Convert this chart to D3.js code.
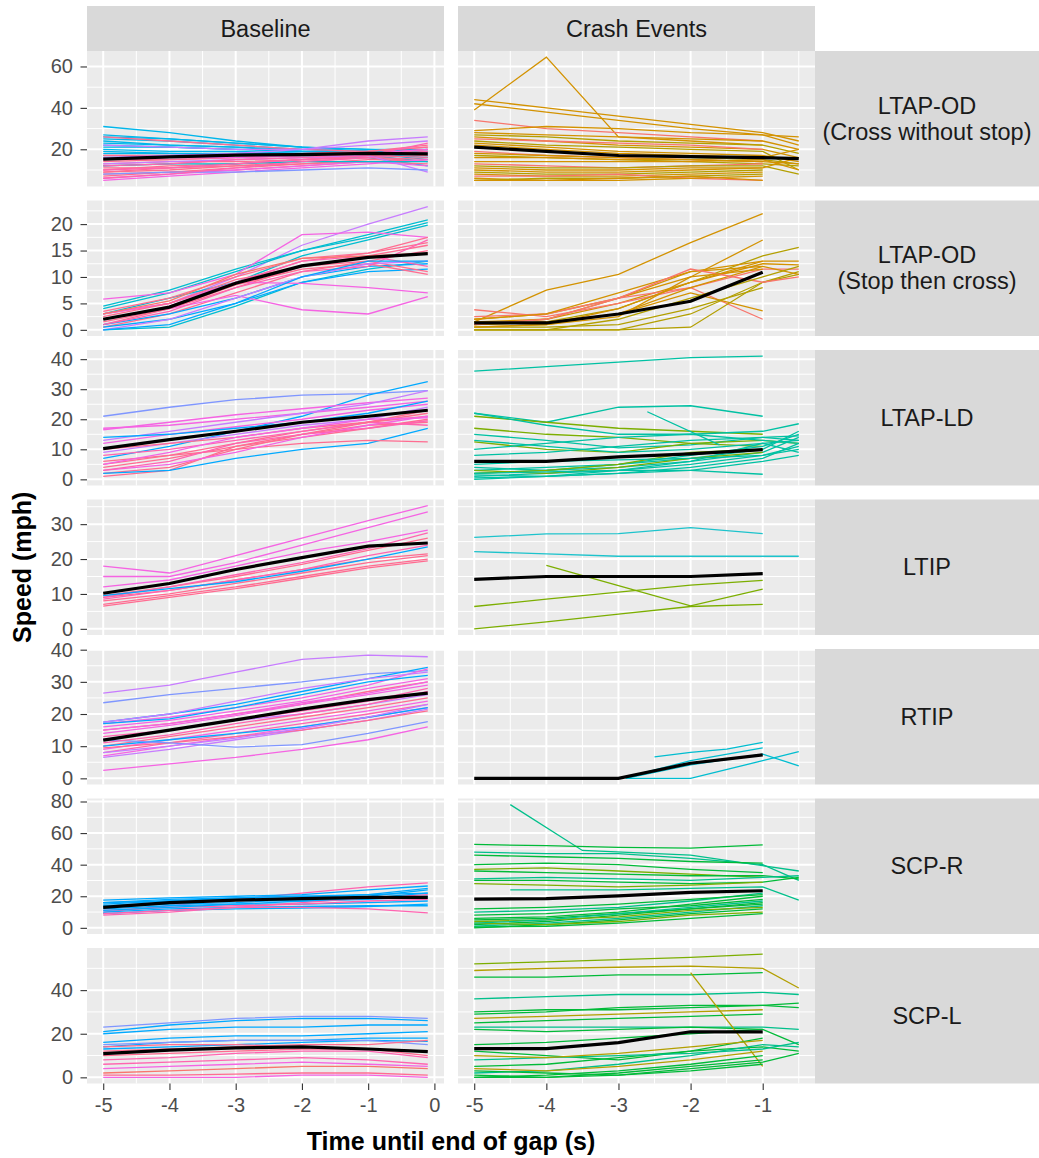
<!DOCTYPE html>
<html>
<head>
<meta charset="utf-8">
<script src="https://cdn.jsdelivr.net/npm/d3@7"></script>
<style>
  body { margin: 0; background: #fff; }
  text { font-family: 'Liberation Sans', Arial, sans-serif; }
  .tick text { fill: #4d4d4d; font-size: 20px; }
  .tick line { stroke: #333; stroke-width: 1.1; }
  .strip-label { fill: #1a1a1a; font-size: 23.5px; }
  .axis-title { fill: #000; font-size: 25px; font-weight: bold; }
</style>
</head>
<body>
<svg width="1039" height="1158"></svg>
<script>
// facet labels and ticks
const columns = ['Baseline', 'Crash Events'];
const rowLabels = [
  ['LTAP-OD', '(Cross without stop)'],
  ['LTAP-OD', '(Stop then cross)'],
  ['LTAP-LD'],
  ['LTIP'],
  ['RTIP'],
  ['SCP-R'],
  ['SCP-L']
];
const yTicks = [
  [20, 40, 60],
  [0, 5, 10, 15, 20],
  [0, 10, 20, 30, 40],
  [0, 10, 20, 30],
  [0, 10, 20, 30, 40],
  [0, 20, 40, 60, 80],
  [0, 20, 40]
];
const xTicks = [[-5, -4, -3, -2, -1, 0], [-5, -4, -3, -2, -1]];

// sample times of each line
const baseTimes = [-5, -4, -3, -2, -1, -0.1];
const crashTimes = [-5, -4, -3, -2, -1, -0.5];

// colour groups (driver id groups)
const palette = {
  cy: '#00B6EB', te: '#00BDD0', ta: '#00C1A3', bl: '#00A9FF', bp: '#7F96FF',
  pu: '#C77CFF', mg: '#F564E3', pk: '#FF64B0', rd: '#FF6C91', sa: '#F8766D',
  or: '#D39200', ol: '#B39F00', gr: '#7CAE00', g2: '#00BA38', tg: '#00C08B',
  cn: '#1DC3CC'
};

// ---- LTAP-OD cross without stop
const ltapCrossBaseline = [
  ['cy', 31, 28, 24, 21, 20, 19], ['cy', 27, 25, 23, 21, 19, 18], ['cy', 25, 24, 22, 20, 19, 18],
  ['cy', 23, 22, 21, 20, 19, 17], ['cy', 21, 21, 20, 19, 18, 17], ['cy', 20, 19, 19, 18, 18, 16],
  ['cy', 19, 18, 18, 19, 17, 14], ['cy', 18, 18, 17, 17, 16, 12], ['cy', 24, 22, 21, 19, 18, 19],
  ['cy', 26, 25, 23, 21, 20, 20], ['cy', 22, 21, 20, 19, 19, 18], ['cy', 17, 17, 18, 18, 18, 15],
  ['rd', 26, 24, 22, 20, 19, 21], ['rd', 17, 17, 17, 18, 19, 22], ['rd', 14, 15, 16, 17, 18, 20],
  ['rd', 12, 13, 15, 16, 17, 19], ['rd', 10, 12, 13, 15, 17, 18], ['rd', 9, 10, 12, 14, 16, 17],
  ['rd', 8, 9, 11, 13, 15, 16], ['rd', 7, 9, 10, 12, 14, 15], ['rd', 13, 14, 14, 15, 16, 14],
  ['rd', 11, 11, 12, 13, 14, 13], ['rd', 15, 15, 16, 17, 19, 21], ['rd', 9, 11, 13, 15, 17, 20],
  ['mg', 5, 7, 9, 11, 13, 15], ['mg', 6, 8, 10, 12, 14, 12],
  ['mg', 15, 16, 16, 17, 18, 20], ['pu', 16, 17, 18, 20, 24, 26], ['pu', 22, 21, 20, 20, 22, 24],
  ['pu', 13, 14, 15, 16, 17, 9], ['bp', 8, 9, 9, 10, 11, 10], ['te', 12, 13, 13, 14, 14, 14],
  ['pk', 10, 11, 13, 15, 17, 23], ['pk', 6, 8, 11, 14, 16, 19], ['pk', 12, 13, 15, 16, 18, 18]
];
const ltapCrossBaselineMean = [15.2, 16.3, 17.2, 17.4, 18, 17.8];
const ltapCrossCrash = [
  ['or', 44, 40, 36, 32, 28, 24], ['or', 42, 38, 34, 30, 27, 26], ['or', 39, 64.5, 26, 24, 22, null],
  ['sa', 34, 30, 28, 26, 24, null], ['or', 29, 31, 30, 28, 27, 22], ['or', 28, 27, 26, 25, 24, 20],
  ['ol', 27, 26, 24, 23, 22, 18], ['or', 26, 24, 22, 21, 20, 16], ['sa', 25, 24, 23, 22, 20, null],
  ['ol', 24, 22, 21, 20, 19, 10], ['or', 23, 21, 19, 18, 17, 14], ['or', 22, 20, 18, 17, 16, 20],
  ['ol', 21, 19, 17, 16, 15, 13], ['sa', 19, 17, 16, 15, 14, null], ['or', 18, 17, 16, 15, 14, 13],
  ['ol', 17, 16, 15, 14, 13, 12], ['or', 16, 16, 15, 15, 14, null], ['or', 14, 14, 14, 14, 15, 10],
  ['sa', 13, 12, 11, 12, 13, null], ['ol', 12, 11, 11, 12, 12, 8], ['or', 11, 10, 10, 11, 11, null],
  ['or', 10, 9, 9, 10, 11, 16], ['ol', 9, 8, 8, 9, 10, null], ['or', 8, 7, 7, 8, 9, null],
  ['sa', 7, 7, 8, 6, 5, null], ['or', 6, 5, 5, 6, 7, null], ['ol', 5, 6, 6, 7, 8, null],
  ['or', 5, 5, 6, 7, 5, null]
];
const ltapCrossCrashMean = [21, 19, 17, 16.5, 16, 15.5];

// ---- LTAP-OD stop then cross
const ltapStopBaseline = [
  ['pu', 3, 5, 10, 16, 20, 23.3], ['te', 4, 7, 11, 15, 18, 20.8], ['te', 4.5, 7.5, 11.5, 15, 17.5, 20.3],
  ['te', 3, 6, 9, 14, 17, 19.8], ['mg', 5.8, 7, 10.5, 18, 18.5, 17.5], ['rd', 3.5, 6, 10, 13.5, 14.5, 17.5],
  ['rd', 3, 5, 9, 13, 14.5, 16.5], ['rd', 1, 4, 8, 12, 14, 16], ['rd', 0.5, 3, 7, 11, 13, 15],
  ['te', 0, 0.5, 4.5, 9, 11.5, 13], ['bl', 1, 3, 6, 10, 12, 12.5], ['bl', 0.5, 2, 5, 9, 11, 11.5],
  ['mg', 2, 4, 6.5, 3.8, 3, 6.3], ['mg', 3, 5, 9, 8.8, 8, 7], ['rd', 2.5, 5, 9.5, 12, 13, 11],
  ['rd', 1.5, 4, 8.5, 11.5, 12.5, 10.5], ['pu', 0, 2, 6, 10, 12.5, 13], ['pk', 2, 4.5, 9, 13, 14, 12],
  ['sa', 3, 5.5, 10.5, 13.5, 14, 14.5], ['pk', 1, 3.5, 8, 11, 12, 17], ['bl', 0, 1, 5, 10, 13, 13]
];
const ltapStopBaselineMean = [2, 4.3, 8.8, 12.1, 13.7, 14.4];
const ltapStopCrash = [
  ['or', 1.5, 7.5, 10.5, 16.5, 22, null], ['or', 2, 3, 6, 10, 17, null], ['ol', 1, 1.5, 4, 9, 14, 15.6],
  ['or', 1.5, 2, 6, 11, 13, null], ['or', 1, 2, 5, 9, 12.5, 12.3], ['sa', 3.8, 2.5, 5, 8, 11.5, 11.5],
  ['sa', 2.5, 3, 6, 8, 2, null], ['or', 0.5, 1, 3, 7, 3.6, null], ['ol', 0, 0, 0, 0.5, 9, 11],
  ['ol', 0, 0, 0, 3, 9, 10.5], ['ol', 0.5, 0.5, 1, 4, 8, null], ['or', 1, 1.5, 3, 8, 12, 10.5],
  ['or', 1.5, 1, 4, 9, 13, 13], ['or', 2, 3, 7, 11, 12, null], ['sa', 1, 2, 6, 11.5, 9, 10],
  ['ol', 0, 0, 2, 6, 10, 12], ['or', 0.5, 1, 2.5, 10, 11.5, null]
];
const ltapStopCrashMean = [1.3, 1.3, 3, 5.4, 10.9, null];

// ---- LTAP-LD
const ltapLdBaseline = [
  ['bp', 21, 24, 26.5, 28, 28.5, 29.5], ['bl', 7, 11, 16, 21, 28, 32.5], ['mg', 16.5, 19, 21.5, 23.5, 25.5, 27],
  ['mg', 17, 18, 20, 22, 24, 26], ['pu', 13, 16, 19, 22, 25, 29.5], ['mg', 12, 15, 17.5, 20, 23, 25],
  ['rd', 1, 3, 11, 14, 17, 20], ['rd', 2, 4, 10, 15, 18, 19], ['bl', 2, 3, 7, 10, 12, 17],
  ['rd', 6, 8, 10, 12, 13, 12.5], ['rd', 4, 7, 11, 15, 19, 22], ['rd', 5, 8, 12, 16, 19, 21],
  ['mg', 3, 5, 9, 14, 18, 21], ['pk', 8, 10, 13, 16, 19, 18], ['pu', 9, 12, 15, 18, 20, 24],
  ['rd', 10, 12, 14, 17, 19, 23], ['mg', 5, 9, 14, 17, 20, 20.5], ['pk', 3, 6, 12, 15, 17, 19.5],
  ['bl', 14, 15, 17, 19, 22, 26]
];
const ltapLdBaselineMean = [10.2, 13.2, 16, 19, 21, 23];
const ltapLdCrash = [
  ['ta', 36, 37.5, 39, 40.5, 41, null], ['ta', 22, 19, 24, 24.5, 21, null], ['gr', 21, 19, 17, 16, 15, null],
  ['ta', 22, 18, 15, 15, 16, 18.5], ['ta', 15, 13, 10.5, 11.5, 14, 14.5], ['gr', 12.5, 10, 9, 12, 13, 12],
  ['gr', 17, 15, 14, 12, 11, null], ['ta', 13, 11, 9, 10, 12, 13],
  { c: 'ta', t: [-2.6, -1.6], v: [22.5, 11.5] },
  ['ta', 1, 2, 3, 5, 8, 10], ['ta', 0.5, 1, 2, 4, 7, 12], ['ta', 2, 3, 4, 6, 9, 14],
  ['ta', 3, 4, 5, 7, 10, 16], ['ta', 1.5, 1, 3, 6, 12, 9], ['ta', 0, 1, 2, 3, 6, 8],
  ['ta', 4, 3, 5, 8, 11, 15], ['gr', 3, 2, 4, 7, 9, null], ['gr', 2, 3, 5, 9, 10, null],
  ['ta', 5, 6, 6.5, 7, 8, 11], ['ta', 2, 2.5, 3, 3, 1.7, null], ['ta', 8, 9, 11, 13, 14, 13],
  ['ta', 10, 12, 14, 15, 13, 12]
];
const ltapLdCrashMean = [6, 6, 7.5, 8.5, 9.9, null];

// ---- LTIP
const ltipBaseline = [
  ['mg', 18, 16, 21, 26, 31, 35.3], ['mg', 15, 15, 19, 24, 29, 33.5], ['mg', 12, 14, 18, 22, 25, 28.3],
  ['rd', 9, 11, 14, 17, 20, 21.5], ['rd', 8, 10, 13, 16, 19, 21], ['rd', 7, 9.5, 12, 15, 18, 20],
  ['rd', 6.5, 9, 11.5, 14.5, 17.5, 19.5], ['pk', 8.5, 11, 14, 17, 21, 24], ['rd', 9.5, 12, 15, 18.5, 22.5, 26],
  ['pk', 9, 12, 15.5, 19, 23, 27.5], ['bl', 9.5, 11.5, 13.5, 16.5, 20, 23.5]
];
const ltipBaselineMean = [10.2, 13, 17, 20.4, 23.7, 24.6];
const ltipCrash = [
  ['cn', 26.2, 27.2, 27.3, 29, 27.3, null], ['cn', 22.1, 21.5, 20.8, 20.8, 20.8, 20.8],
  ['gr', null, 18.2, 12.4, 6.6, 11.4, null], ['gr', 6.4, 8.5, 10.5, 12.5, 13.9, null],
  ['gr', 0, 2, 4.2, 6.4, 7, null]
];
const ltipCrashMean = [14.2, 15, 15, 15, 15.8, null];

// ---- RTIP
const rtipBaseline = [
  ['pu', 26.5, 29, 33, 37, 38.3, 37.8], ['bp', 23.5, 26, 28, 30, 32.5, 33.5], ['bl', 17.5, 20, 23, 27, 31, 34.5],
  ['mg', 17, 19, 22, 25, 29, 34], ['pu', 17.5, 20, 24, 28, 31, 33], ['mg', 16, 18, 21, 24, 28, 31],
  ['rd', 15, 17, 20, 23, 27, 30], ['mg', 14, 16.5, 19.5, 23, 26, 29], ['pk', 13, 15, 18, 21, 24, 28],
  ['pu', 12, 15, 18, 20, 23, 26], ['rd', 10, 13, 16, 19, 22, 25], ['mg', 9, 12, 15, 18, 21, 24],
  ['pk', 8, 11, 14, 17, 20, 23], ['mg', 7, 10, 13, 16, 19, 22], ['pu', 6.5, 9, 12, 15, 18, 21.5],
  ['rd', 9.5, 11, 13, 15, 18, 21], ['bl', 10, 12, 14, 16, 19, 22], ['bp', 12, 11, 9.7, 10.5, 14, 17.6],
  ['mg', 2.5, 4.5, 6.5, 9, 12, 16], ['pk', 11, 13.5, 17, 20, 23, 27], ['mg', 15, 17, 20, 23.5, 26.5, 30],
  ['bl', 17, 18.5, 22, 26, 30, 32], ['pu', 8, 10, 12.5, 15.5, 19, 23]
];
const rtipBaselineMean = [11.9, 15, 18.2, 21.5, 24.5, 26.5];
const rtipCrash = [
  { c: 'te', t: [-2.5, -2, -1.5, -1], v: [6.7, 8.1, 9.1, 11.2] },
  { c: 'te', t: [-2.9, -2, -1, -0.5], v: [0, 0, 5.5, 8.3] },
  { c: 'te', t: [-2.9, -2, -1, -0.5], v: [0, 4.2, 7.5, 3.9] },
  { c: 'te', t: [-2.9, -2, -1], v: [0.3, 5.5, 9.5] }
];
const rtipCrashMean = [0, 0, 0, 4.7, 7.3, null];

// ---- SCP-R
const scprBaseline = [
  ['pk', 10, 14, 18, 22, 26, 28.5], ['bl', 17.5, 19, 20, 21, 24, 26.5], ['bl', 16, 18, 19, 20, 21, 22],
  ['bl', 14, 16, 17.5, 17, 18, 20], ['bl', 12, 14, 15, 15, 16, 17], ['bl', 10, 12, 13, 13.5, 14, 14],
  ['bl', 9, 11, 12, 12.5, 13.5, 15], ['pk', 9, 11, 13, 16, 19, 21], ['pk', 8, 10, 13, 13, 12, 9.5],
  ['pk', 11, 13, 14, 15, 17, 18], ['bl', 15, 17, 19, 20, 19, 19], ['bl', 13, 15, 16, 18, 20, 24],
  ['bl', 11, 13, 15, 17, 19, 22], ['bl', 16, 17, 18, 19, 21, 25]
];
const scprBaselineMean = [13, 16, 17.5, 18.5, 19.3, 19.3];
const scprCrash = [
  { c: 'tg', t: [-4.5, -3.5, -2, -0.5], v: [78, 49, 46, 36] },
  ['g2', 52.8, 52, 51, 50.5, 52.5, null], ['tg', 48, 47, 47, 44, 40, 30], ['g2', 40, 41, 40, 37, 35, null],
  ['gr', 37, 38, 36, 34, 32, null], ['g2', 36, 35, 34, 33, 33, 31], ['tg', 31, 32, 31, 30, 32, 33],
  ['g2', 30, 30, 29, 28, 29, 32], ['gr', 28, 27, 26, 27, 29, null], ['g2', 46, 45, 44, 42, 41, null],
  { c: 'tg', t: [-4.5, -3, -2, -1, -0.5], v: [24, 24, 25, 26, 17.6] },
  ['g2', 8, 9, 12, 14, 18, null], ['g2', 2, 4, 8, 12, 16, null], ['tg', 1, 3, 6, 10, 14, null],
  ['gr', 4, 5, 7, 11, 13, null], ['g2', 0, 2, 5, 9, 12, null], ['g2', 6, 7, 10, 15, 20, null],
  ['gr', 3, 2, 4, 8, 10, null], ['tg', 10, 11, 13, 17, 22, null], ['g2', 0.5, 1, 3, 6, 9, null],
  ['g2', 5, 6, 9, 12, 15, null], ['g2', 12, 13, 15, 18, 21, null], ['tg', 3, 5, 9, 13, 17, null]
];
const scprCrashMean = [18.2, 18.5, 20.3, 22.4, 23.5, null];

// ---- SCP-L
const scplBaseline = [
  ['bp', 23, 25, 27, 28, 28, 27], ['bl', 21, 24, 26, 27, 27, 26], ['bl', 20, 22, 23, 23, 24, 24],
  ['bl', 16, 18, 19, 19, 20, 21], ['bl', 14, 16, 17, 17, 18, 18], ['bl', 13, 14, 15, 16, 17, 16.5],
  ['bp', 15, 16, 17, 17, 17, 15], ['rd', 14, 15, 15, 14, 13, 12], ['rd', 12, 13, 14, 15, 15, 17],
  ['rd', 10, 11, 12, 13, 13, 10], ['pk', 8, 9, 11, 12, 12, 9], ['mg', 4, 5, 6, 7, 6, 5],
  ['pk', 6, 7, 8, 9, 8, 6], ['sa', 2, 3, 4, 5, 5, 4], ['rd', 1, 1, 1.5, 2, 2, 1],
  ['mg', 0, 0, 0, 1, 1, 0]
];
const scplBaselineMean = [10.9, 12.5, 13.5, 14, 13, 11.8];
const scplCrash = [
  ['gr', 52, 53, 54, 55, 56.5, null], ['ol', 49, 50, 50.5, 51, 50, 41], ['g2', 46, 46, 47, 47, 48, null],
  ['tg', 36, 37, 38, 38, 39, 38], ['g2', 30, 31, 31, 32, 33, 32], ['g2', 29, 30, 32, 33, 33, 34],
  ['ol', 27, 28, 29, 30, 31, null], ['g2', 25, 26, 27, 28, 29, null], ['tg', 23, 23, 23, 23, 23, 22],
  ['g2', 22, 21, 22, 23, 22, 15], ['g2', 15, 16, 18, 20, 22, null],
  { c: 'ol', t: [-2, -1], v: [48, 5] },
  ['g2', 12, 10, 8, 12, 18, null], ['g2', 5, 6, 9, 12, 14, 12], ['tg', 2, 3, 6, 10, 15, 14],
  ['g2', 0, 1, 3, 6, 10, null], ['ol', 4, 3, 5, 8, 12, null], ['g2', 1, 0, 2, 5, 8, null],
  ['tg', 8, 9, 10, 11, 13, 16], ['g2', 0, 0, 1, 3, 6, null], ['ol', 10, 9, 11, 14, 17, null],
  ['g2', 3, 2, 1, 4, 7, 11]
];
const scplCrashMean = [13.2, 13.2, 15.9, 20.9, 20.9, null];

const panels = [
  [ltapCrossBaseline, ltapCrossCrash],
  [ltapStopBaseline, ltapStopCrash],
  [ltapLdBaseline, ltapLdCrash],
  [ltipBaseline, ltipCrash],
  [rtipBaseline, rtipCrash],
  [scprBaseline, scprCrash],
  [scplBaseline, scplCrash]
];
const means = [
  [ltapCrossBaselineMean, ltapCrossCrashMean],
  [ltapStopBaselineMean, ltapStopCrashMean],
  [ltapLdBaselineMean, ltapLdCrashMean],
  [ltipBaselineMean, ltipCrashMean],
  [rtipBaselineMean, rtipCrashMean],
  [scprBaselineMean, scprCrashMean],
  [scplBaselineMean, scplCrashMean]
];
const times = [baseTimes, crashTimes];

(function (d3) {
  'use strict';

  const svg = d3.select('svg');
  const width = +svg.attr('width');

  const margin = { top: 51, left: 87 };
  const panelW = 357;
  const panelH = 135.5;
  const gapX = 14;
  const gapY = 14;
  const stripH = 45;

  const expand = ([lo, hi]) => {
    const pad = (hi - lo) * 0.05;
    return [lo - pad, hi + pad];
  };
  const minorOf = (ticks, domain) => {
    const step = ticks[1] - ticks[0];
    const out = [];
    for (let v = ticks[0] - step / 2; v <= domain[1]; v += step) {
      if (v >= domain[0]) out.push(v);
    }
    return out;
  };
  const toSeries = (line, ts) => Array.isArray(line)
    ? { c: line[0], t: ts, v: line.slice(1) }
    : line;
  const toPoints = s => s.t.map((t, i) => [t, s.v[i]]).filter(d => d[1] != null);

  const xScales = times.map(ts =>
    d3.scaleLinear().domain(expand(d3.extent(ts))).range([0, panelW]));

  const rowsSeries = panels.map(row => row.map((lines, c) => lines.map(l => toSeries(l, times[c]))));

  // column strips
  columns.forEach((label, c) => {
    const x0 = margin.left + c * (panelW + gapX);
    svg.append('rect')
      .attr('x', x0).attr('y', margin.top - stripH)
      .attr('width', panelW).attr('height', stripH)
      .attr('fill', '#d9d9d9');
    svg.append('text')
      .attr('class', 'strip-label')
      .attr('x', x0 + panelW / 2)
      .attr('y', margin.top - stripH / 2)
      .attr('dy', '0.35em')
      .attr('text-anchor', 'middle')
      .text(label);
  });

  const stripX = margin.left + 2 * panelW + gapX;

  rowsSeries.forEach((row, r) => {
    const y0 = margin.top + r * (panelH + gapY);
    const allVals = [];
    row.forEach(series => series.forEach(s => s.v.forEach(v => { if (v != null) allVals.push(v); })));
    means[r].forEach(m => m.forEach(v => { if (v != null) allVals.push(v); }));
    const yScale = d3.scaleLinear()
      .domain(expand(d3.extent(allVals)))
      .range([panelH, 0]);
    const yMinor = minorOf(yTicks[r], yScale.domain());

    row.forEach((series, c) => {
      const xScale = xScales[c];
      const xMinor = minorOf(xTicks[c], xScale.domain());
      const g = svg.append('g')
        .attr('transform', `translate(${margin.left + c * (panelW + gapX)},${y0})`);

      g.append('rect')
        .attr('width', panelW).attr('height', panelH)
        .attr('fill', '#ebebeb');

      g.selectAll('.ymin').data(yMinor).enter().append('line')
        .attr('x1', 0).attr('x2', panelW)
        .attr('y1', d => yScale(d)).attr('y2', d => yScale(d))
        .attr('stroke', '#fff').attr('stroke-width', 1);
      g.selectAll('.xmin').data(xMinor).enter().append('line')
        .attr('y1', 0).attr('y2', panelH)
        .attr('x1', d => xScale(d)).attr('x2', d => xScale(d))
        .attr('stroke', '#fff').attr('stroke-width', 1);
      g.selectAll('.ymaj').data(yTicks[r]).enter().append('line')
        .attr('x1', 0).attr('x2', panelW)
        .attr('y1', d => yScale(d)).attr('y2', d => yScale(d))
        .attr('stroke', '#fff').attr('stroke-width', 2);
      g.selectAll('.xmaj').data(xTicks[c]).enter().append('line')
        .attr('y1', 0).attr('y2', panelH)
        .attr('x1', d => xScale(d)).attr('x2', d => xScale(d))
        .attr('stroke', '#fff').attr('stroke-width', 2);

      const lineGenerator = d3.line()
        .x(d => xScale(d[0]))
        .y(d => yScale(d[1]));

      g.selectAll('.line-path').data(series).enter().append('path')
        .attr('class', 'line-path')
        .attr('d', s => lineGenerator(toPoints(s)))
        .attr('fill', 'none')
        .attr('stroke', s => palette[s.c])
        .attr('stroke-width', 1.3);

      const meanPts = toPoints({ t: times[c], v: means[r][c] });
      g.append('path')
        .attr('d', lineGenerator(meanPts))
        .attr('fill', 'none')
        .attr('stroke', '#000')
        .attr('stroke-width', 3.2);

      if (c === 0) {
        const yAxisG = g.append('g')
          .call(d3.axisLeft(yScale).tickValues(yTicks[r]).tickSize(6.5).tickPadding(7.5)
            .tickFormat(d => String(d)));
        yAxisG.select('.domain').remove();
      }
      if (r === rowsSeries.length - 1) {
        const xAxisG = g.append('g')
          .attr('transform', `translate(0,${panelH})`)
          .call(d3.axisBottom(xScale).tickValues(xTicks[c]).tickSize(6.5).tickPadding(7.5)
            .tickFormat(d => String(d)));
        xAxisG.select('.domain').remove();
      }
    });

    // row strip
    svg.append('rect')
      .attr('x', stripX).attr('y', y0)
      .attr('width', width - stripX).attr('height', panelH)
      .attr('fill', '#d9d9d9');
    const lines = rowLabels[r];
    lines.forEach((txt, i) => {
      svg.append('text')
        .attr('class', 'strip-label')
        .attr('x', stripX + (width - stripX) / 2)
        .attr('y', y0 + panelH / 2 + (i - (lines.length - 1) / 2) * 26)
        .attr('dy', '0.35em')
        .attr('text-anchor', 'middle')
        .text(txt);
    });
  });

  const gridBottom = margin.top + 7 * panelH + 6 * gapY;

  svg.append('text')
    .attr('class', 'axis-title')
    .attr('x', margin.left + (2 * panelW + gapX) / 2)
    .attr('y', gridBottom + 66)
    .attr('text-anchor', 'middle')
    .text('Time until end of gap (s)');

  svg.append('text')
    .attr('class', 'axis-title')
    .attr('transform', `translate(31,${(margin.top + gridBottom) / 2}) rotate(-90)`)
    .attr('text-anchor', 'middle')
    .text('Speed (mph)');

}(d3));
</script>
</body>
</html>
